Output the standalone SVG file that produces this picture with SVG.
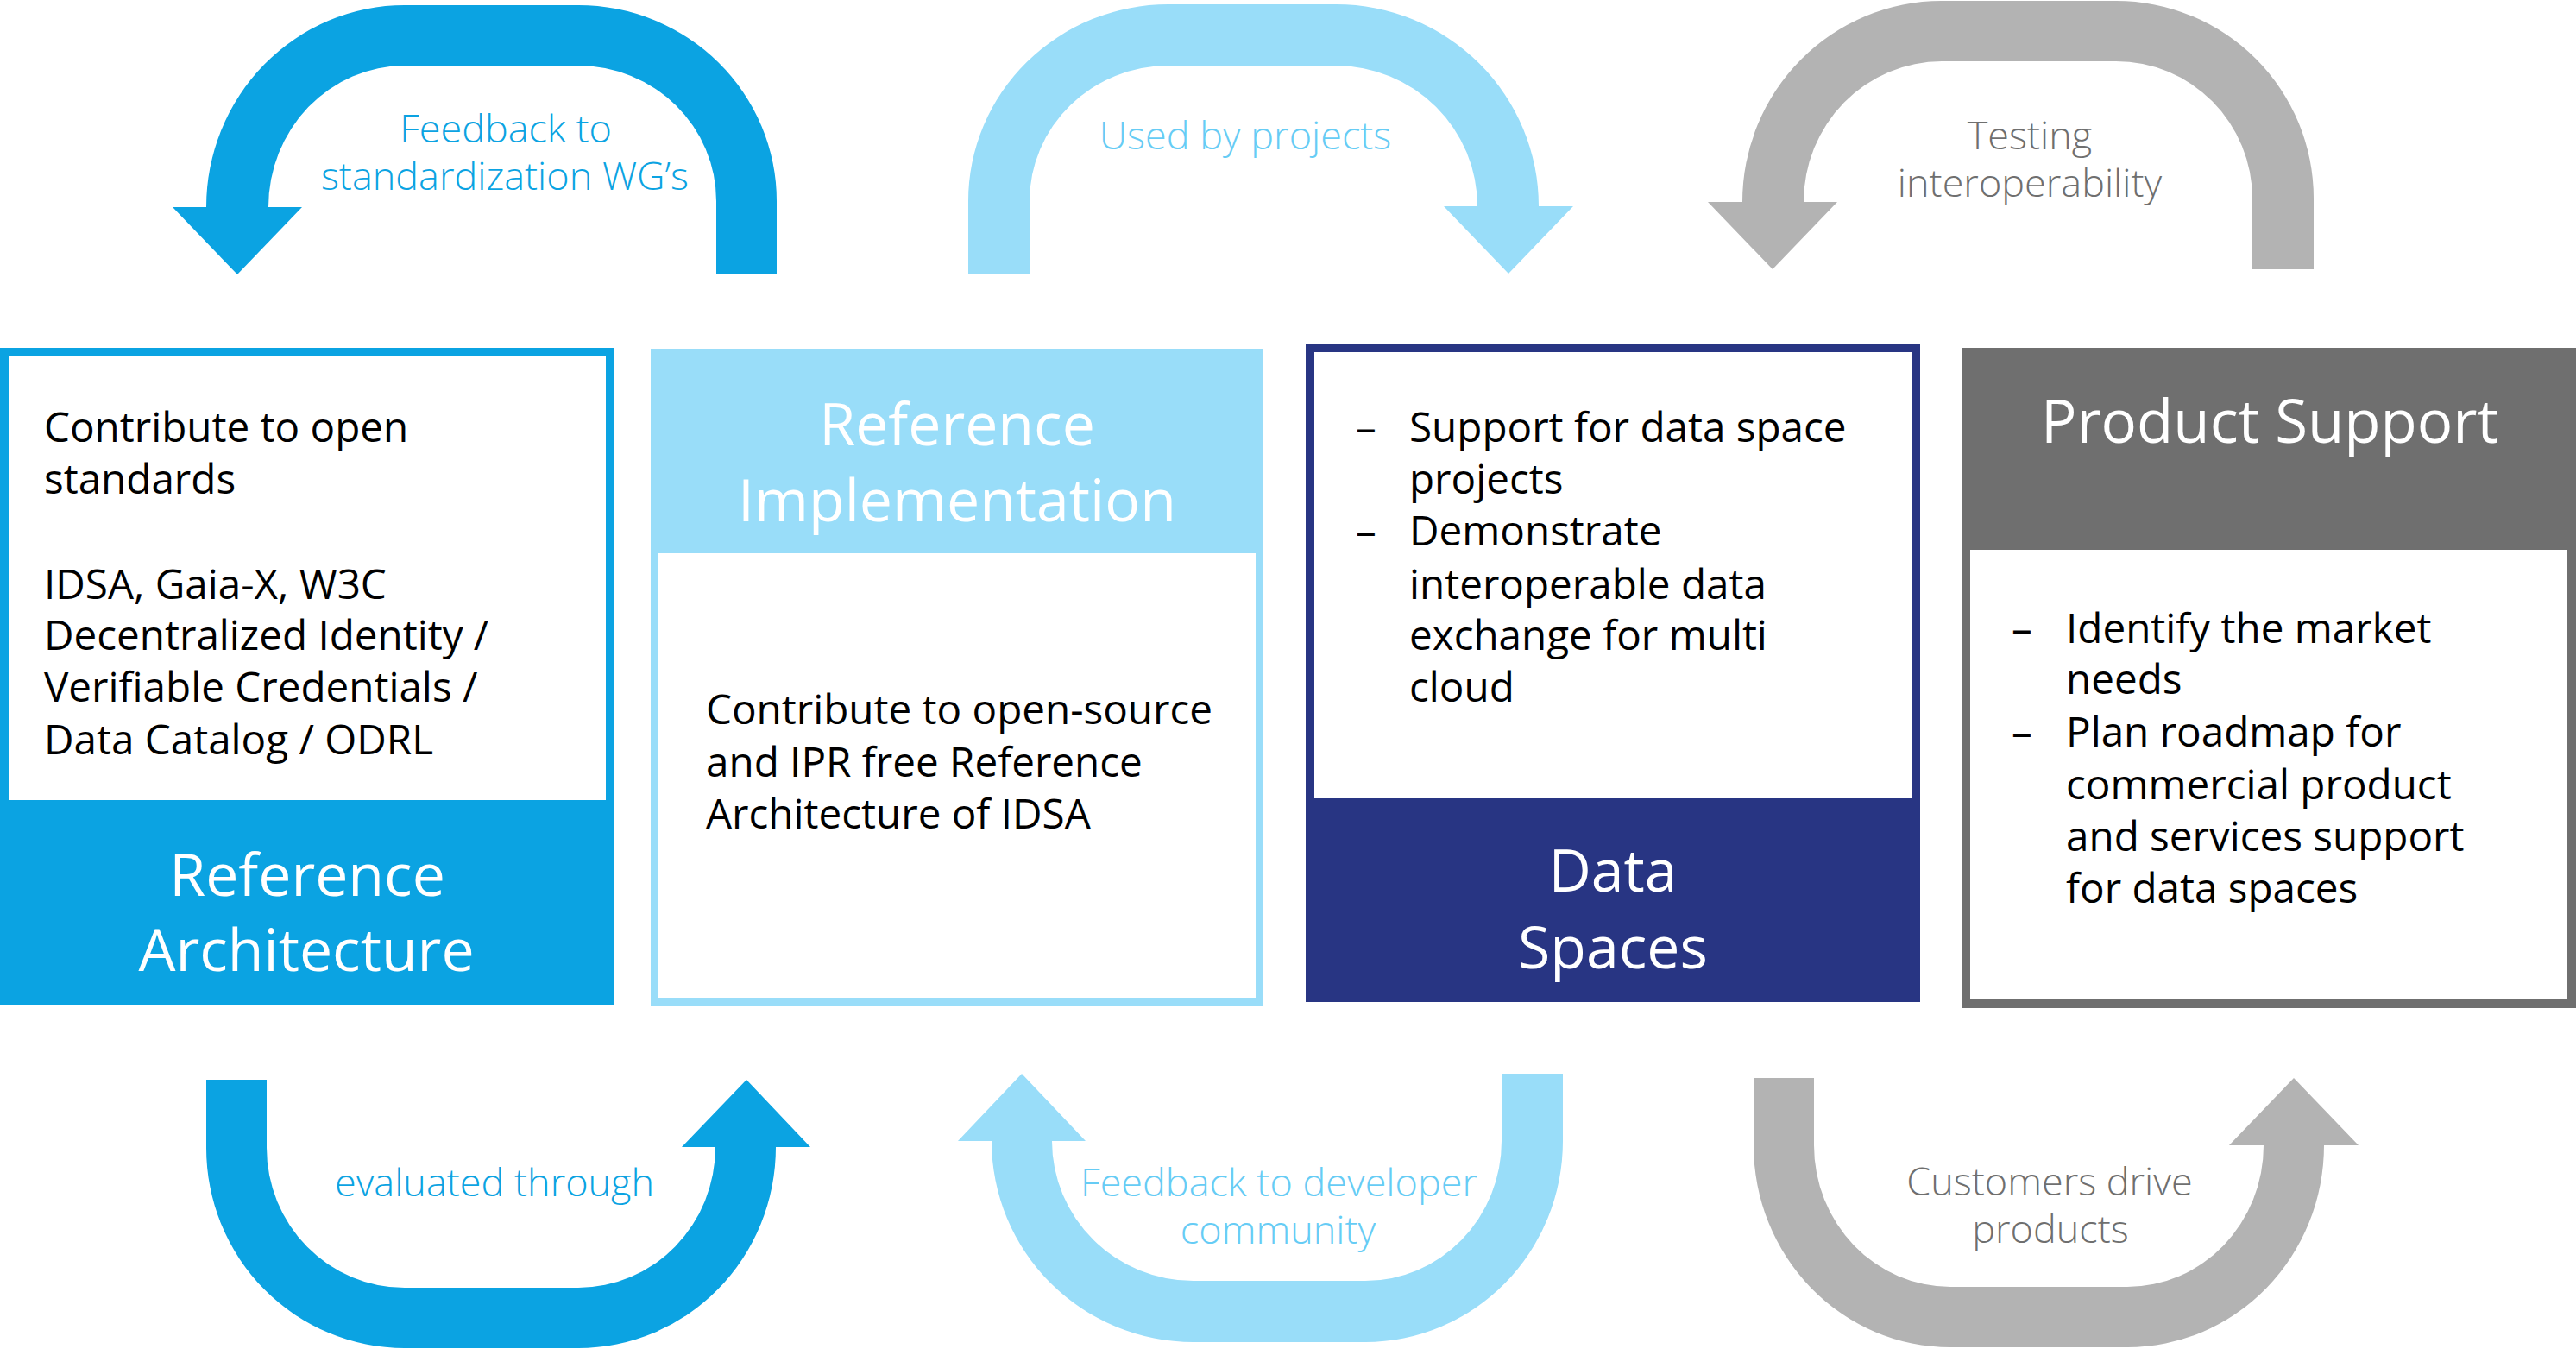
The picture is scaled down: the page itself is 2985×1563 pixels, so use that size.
<svg xmlns="http://www.w3.org/2000/svg" width="2985" height="1563" viewBox="0 0 2985 1563">
<style>
  text { font-family: "Open Sans", "Noto Sans", "Liberation Sans", sans-serif; }
  .body { font-size: 47.6px; fill: #000000; }
  .title { font-size: 68px; fill: #FFFFFF; text-anchor: middle; }
  .lbl { font-size: 45px; text-anchor: middle; font-weight: 300; }
  .blue { fill: #0BA3E2; }
  .lblue { fill: #99DDF9; }
  .navy { fill: #283583; }
  .dgray { fill: #6F6F6F; }
  .lgray { fill: #B3B3B3; }
  .white { fill: #FFFFFF; }
  .tlblue { fill: #66CCF5; }
  .tgray { fill: #6F6F6F; }
</style>
<rect x="0" y="0" width="2985" height="1563" fill="#FFFFFF"/>

<g id="connectors">
  <g id="arrow-feedback-standardization">
    <path class="blue" d="M 239,240 A 230,234 0 0 1 469,6 L 670,6 A 230,227 0 0 1 900,233 L 900,318 L 830,318 L 830,233 A 160,157 0 0 0 670,76 L 469,76 A 158,164 0 0 0 311,240 L 350,240 L 275,318 L 200,240 Z"/>
    <text class="lbl blue" x="586" y="165">Feedback to</text>
    <text class="lbl blue" x="585" y="220">standardization WG’s</text>
  </g>
  <g id="arrow-used-by-projects">
    <path class="lblue" d="M 1122,317 L 1122,233 A 232,228 0 0 1 1354,5 L 1548,5 A 235,234 0 0 1 1783,239 L 1823,239 L 1748,317 L 1673,239 L 1712,239 A 164,163 0 0 0 1548,76 L 1354,76 A 161,157 0 0 0 1193,233 L 1193,317 Z"/>
    <text class="lbl tlblue" x="1443" y="173">Used by projects</text>
  </g>
  <g id="arrow-testing-interoperability">
    <path class="lgray" d="M 2019,234 A 231,233 0 0 1 2250,1 L 2452,1 A 229,229 0 0 1 2681,230 L 2681,312 L 2610,312 L 2610,230 A 158,159 0 0 0 2452,71 L 2250,71 A 160,163 0 0 0 2090,234 L 2129,234 L 2054,312 L 1979,234 Z"/>
    <text class="lbl tgray" x="2352" y="173">Testing</text>
    <text class="lbl tgray" x="2352" y="228">interoperability</text>
  </g>
  <g id="arrow-evaluated-through">
    <path class="blue" d="M 239,1251 L 309,1251 L 309,1330 A 160,162 0 0 0 469,1492 L 670,1492 A 159,163 0 0 0 829,1329 L 790,1329 L 865,1251 L 939,1329 L 899,1329 A 229,233 0 0 1 670,1562 L 469,1562 A 230,232 0 0 1 239,1330 Z"/>
    <text class="lbl blue" x="573" y="1386">evaluated through</text>
  </g>
  <g id="arrow-feedback-developer">
    <path class="lblue" d="M 1811,1244 L 1740,1244 L 1740,1322 A 158,162 0 0 1 1582,1484 L 1383,1484 A 164,162 0 0 1 1219,1322 L 1258,1322 L 1184,1244 L 1110,1322 L 1149,1322 A 234,233 0 0 0 1383,1555 L 1582,1555 A 229,233 0 0 0 1811,1322 Z"/>
    <text class="lbl tlblue" x="1482" y="1386">Feedback to developer</text>
    <text class="lbl tlblue" x="1481" y="1441">community</text>
  </g>
  <g id="arrow-customers-drive">
    <path class="lgray" d="M 2032,1249 L 2102,1249 L 2102,1327 A 158,164 0 0 0 2260,1491 L 2465,1491 A 158,164 0 0 0 2623,1327 L 2583,1327 L 2658,1249 L 2733,1327 L 2693,1327 A 228,234 0 0 1 2465,1561 L 2260,1561 A 228,234 0 0 1 2032,1327 Z"/>
    <text class="lbl tgray" x="2375" y="1385">Customers drive</text>
    <text class="lbl tgray" x="2376" y="1440">products</text>
  </g>
</g>

<g id="node-reference-architecture">
  <rect class="blue" x="0" y="403" width="711" height="761"/>
  <rect class="white" x="11" y="413" width="691" height="514"/>
  <text class="body" x="51" y="512">Contribute to open</text>
  <text class="body" x="51" y="572">standards</text>
  <text class="body" x="51" y="694">IDSA, Gaia-X, W3C</text>
  <text class="body" x="51" y="753">Decentralized Identity /</text>
  <text class="body" x="51" y="813">Verifiable Credentials /</text>
  <text class="body" x="51" y="874">Data Catalog / ODRL</text>
  <text class="title" x="356" y="1038">Reference</text>
  <text class="title" x="355" y="1125">Architecture</text>
</g>

<g id="node-reference-implementation">
  <rect class="lblue" x="754" y="404" width="710" height="762"/>
  <rect class="white" x="763" y="641" width="692" height="515"/>
  <text class="title" x="1109" y="516">Reference</text>
  <text class="title" x="1109" y="604">Implementation</text>
  <text class="body" x="818" y="839">Contribute to open-source</text>
  <text class="body" x="818" y="900">and IPR free Reference</text>
  <text class="body" x="818" y="960">Architecture of IDSA</text>
</g>

<g id="node-data-spaces">
  <rect class="navy" x="1513" y="399" width="712" height="762"/>
  <rect class="white" x="1523" y="408" width="692" height="517"/>
  <text class="body" x="1571" y="512">–</text>
  <text class="body" x="1633" y="512">Support for data space</text>
  <text class="body" x="1633" y="572">projects</text>
  <text class="body" x="1571" y="632">–</text>
  <text class="body" x="1633" y="632">Demonstrate</text>
  <text class="body" x="1633" y="694">interoperable data</text>
  <text class="body" x="1633" y="753">exchange for multi</text>
  <text class="body" x="1633" y="813">cloud</text>
  <text class="title" x="1869" y="1033">Data</text>
  <text class="title" x="1869" y="1122">Spaces</text>
</g>

<g id="node-product-support">
  <rect class="dgray" x="2273" y="403" width="712" height="765"/>
  <rect class="white" x="2283" y="637" width="692" height="521"/>
  <text class="title" x="2630" y="513" style="font-size:69px">Product Support</text>
  <text class="body" x="2331" y="745">–</text>
  <text class="body" x="2394" y="745">Identify the market</text>
  <text class="body" x="2394" y="804">needs</text>
  <text class="body" x="2331" y="865">–</text>
  <text class="body" x="2394" y="865">Plan roadmap for</text>
  <text class="body" x="2394" y="926">commercial product</text>
  <text class="body" x="2394" y="986">and services support</text>
  <text class="body" x="2394" y="1046">for data spaces</text>
</g>
</svg>
